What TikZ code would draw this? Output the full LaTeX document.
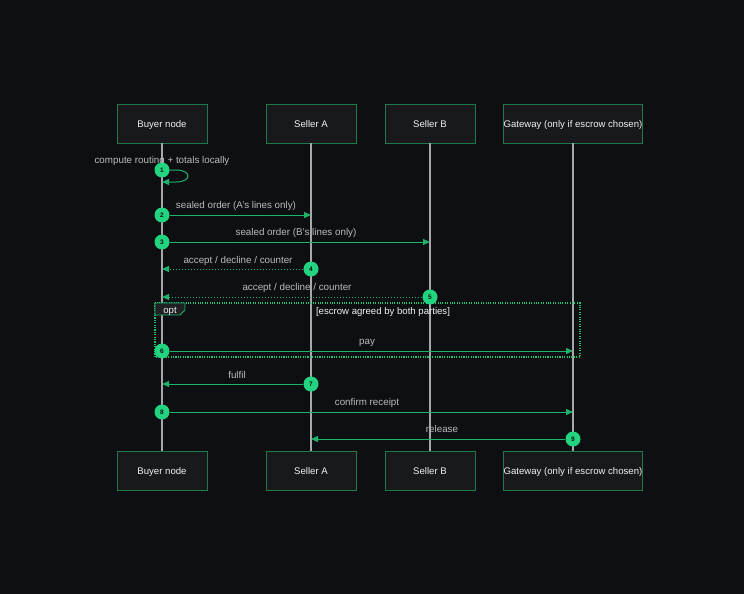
\documentclass[tikz,border=0pt]{standalone}
\usepackage{fontspec}
\setmainfont{Liberation Sans}
\usetikzlibrary{arrows.meta,shapes.geometric}
\definecolor{bg}{HTML}{0E0F12}
\definecolor{boxfill}{HTML}{18191C}
\definecolor{tagfill}{HTML}{202124}
\definecolor{boxdraw}{HTML}{1F7A4A}
\definecolor{lifeline}{HTML}{A8A8A8}
\definecolor{msg}{HTML}{1DB36B}
\definecolor{framegreen}{HTML}{22C474}
\definecolor{dot}{HTML}{22D37F}
\definecolor{lbl}{HTML}{BBBBBB}
\definecolor{txt}{HTML}{F2F2F2}
\tikzset{
  actor/.style={draw=boxdraw, fill=boxfill, line width=0.9pt, minimum height=39pt, text=txt, font=\fontsize{9.6}{11}\selectfont, inner sep=0pt, text height=7pt, text depth=0pt},
  life/.style={draw=lifeline, line width=1.1pt},
  msgline/.style={draw=msg, line width=1pt, -{Triangle[length=7pt,width=6pt]}},
  reply/.style={msgline, dash pattern=on 1.5pt off 1.5pt},
  num/.style={circle, fill=dot, minimum size=15pt, inner sep=0pt, font=\fontsize{6.5}{7}\selectfont\bfseries, text=bg},
  mlabel/.style={text=lbl, font=\fontsize{9.8}{11}\selectfont, inner sep=0pt, text height=7pt, text depth=0pt},
  frametext/.style={text=txt, font=\fontsize{9.6}{11}\selectfont, inner sep=0pt, text height=7pt, text depth=0pt},
}
\begin{document}
\begin{tikzpicture}[x=1pt,y=-1pt]
\fill[bg] (0,0) rectangle (744,594);
\useasboundingbox (0,0) rectangle (744,594);
% actors top
\node[actor, minimum width=90pt] (bt) at (162,123.5) {Buyer node};
\node[actor, minimum width=90pt] (at) at (311,123.5) {Seller A};
\node[actor, minimum width=90pt] (st) at (430,123.5) {Seller B};
\node[actor, minimum width=138pt] (gt) at (573,123.5) {Gateway (only if escrow chosen)};
% actors bottom
\node[actor, minimum width=90pt] (bb) at (162,471) {Buyer node};
\node[actor, minimum width=90pt] (ab) at (311,471) {Seller A};
\node[actor, minimum width=90pt] (sb) at (430,471) {Seller B};
\node[actor, minimum width=138pt] (gb) at (573,471) {Gateway (only if escrow chosen)};
% lifelines
\draw[life] (bt.south) -- (bb.north);
\draw[life] (at.south) -- (ab.north);
\draw[life] (st.south) -- (sb.north);
\draw[life] (gt.south) -- (gb.north);
% opt frame
\draw[framegreen, line width=1.1pt, dash pattern=on 1.1pt off 1.3pt] (155,303) rectangle (580,357);
\draw[msg, line width=0.9pt, fill=tagfill] (155,303) -- (185,303) -- (185,310) -- (180,315) -- (155,315) -- cycle;
\node[frametext] (optl) at (170,310) {opt};
\node[frametext] (cond) at (383,311) {[escrow agreed by both parties]};
% message 1 self loop
\coordinate (s1) at (162,170);
\coordinate (e1) at (162,182);
\draw[msgline] (s1) -- (176,170) .. controls (192,170) and (192,182) .. (176,182) -- (e1);
\node[mlabel] (l1) at (162,160) {compute routing + totals locally};
\node[num] (n1) at (s1) {1};
% message 2
\coordinate (e2) at (311,215);
\node[num] (n2) at (162,215) {2};
\draw[msgline] (n2) -- (e2);
\node[mlabel] (l2) at (236,205) {sealed order (A's lines only)};
% message 3
\coordinate (e3) at (430,242);
\node[num] (n3) at (162,242) {3};
\draw[msgline] (n3) -- (e3);
\node[mlabel] (l3) at (296,232) {sealed order (B's lines only)};
% message 4
\coordinate (e4) at (162,269);
\node[num] (n4) at (311,269) {4};
\draw[reply] (n4) -- (e4);
\node[mlabel] (l4) at (238,260) {accept / decline / counter};
% message 5
\coordinate (e5) at (162,297);
\node[num] (n5) at (430,297) {5};
\draw[reply] (n5) -- (e5);
\node[mlabel] (l5) at (297,287) {accept / decline / counter};
% message 6
\coordinate (e6) at (573,351);
\node[num] (n6) at (162,351) {6};
\draw[msgline] (n6) -- (e6);
\node[mlabel] (l6) at (367,341) {pay};
% message 7
\coordinate (e7) at (162,384);
\node[num] (n7) at (311,384) {7};
\draw[msgline] (n7) -- (e7);
\node[mlabel] (l7) at (237,375) {fulfil};
% message 8
\coordinate (e8) at (573,412);
\node[num] (n8) at (162,412) {8};
\draw[msgline] (n8) -- (e8);
\node[mlabel] (l8) at (367,402) {confirm receipt};
% message 9
\coordinate (e9) at (311,439);
\node[num] (n9) at (573,439) {9};
\draw[msgline] (n9) -- (e9);
\node[mlabel] (l9) at (442,429) {release};
\end{tikzpicture}
\end{document}
